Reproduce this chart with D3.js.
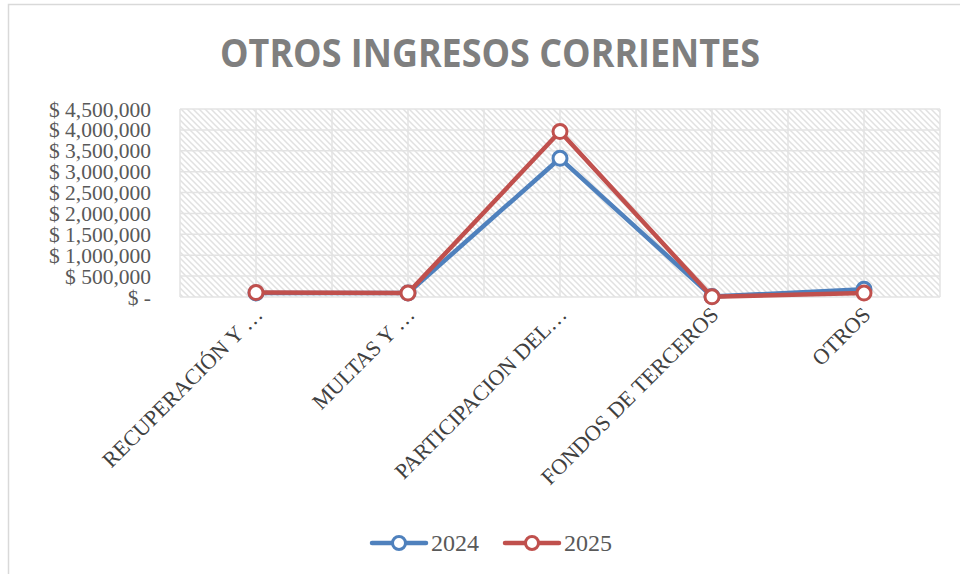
<!DOCTYPE html>
<html>
<head>
<meta charset="utf-8">
<script src="https://cdn.jsdelivr.net/npm/d3@7"></script>
<style>
  body { margin: 0; background: #fff; }
  svg { display: block; }
</style>
</head>
<body>
<script>
var categories = ["RECUPERACIÓN Y …", "MULTAS Y …", "PARTICIPACION DEL…", "FONDOS DE TERCEROS", "OTROS"];
var values2024 = [95000, 95000, 3320000, 10000, 185000];
var values2025 = [105000, 95000, 3960000, 5000, 95000];
var seriesNames = ["2024", "2025"];
var yTicks = [0, 500000, 1000000, 1500000, 2000000, 2500000, 3000000, 3500000, 4000000, 4500000];

var w = 960, h = 574;
var margin = { left: 180, top: 109, right: 20, bottom: 277 };
var colors = ["#4f81bd", "#c0504d"];
var serif = "'Liberation Serif', 'DejaVu Serif', serif";

var svg = d3.select("body").append("svg").attr("width", w).attr("height", h);

// chart border (only top/left visible in reference)
svg.append("path")
  .attr("d", "M8.5," + h + "V4.5H" + w)
  .attr("fill", "none")
  .attr("stroke", "#d9d9d9")
  .attr("stroke-width", 1.5);

// hatch pattern for plot area
var defs = svg.append("defs");
var pat = defs.append("pattern")
  .attr("id", "hatch")
  .attr("patternUnits", "userSpaceOnUse")
  .attr("width", 6).attr("height", 6);
pat.append("rect").attr("width", 6).attr("height", 6).attr("fill", "#fff");
pat.append("path")
  .attr("d", "M-1,-1L7,7M-1,5L1,7M5,-1L7,1")
  .attr("stroke", "#e1e1e1")
  .attr("stroke-width", 1.5);

var x = d3.scaleBand()
  .domain(categories)
  .range([margin.left, w - margin.right]);

var y = d3.scaleLinear()
  .domain([0, 4500000])
  .range([h - margin.bottom, margin.top]);

var x0 = margin.left, x1 = w - margin.right;
var y0 = y(0), y1 = y(4500000);

svg.append("rect")
  .attr("x", x0).attr("y", y1)
  .attr("width", x1 - x0).attr("height", y0 - y1)
  .attr("fill", "url(#hatch)");

// gridlines
var grid = svg.append("g").attr("stroke", "#e3e3e3").attr("stroke-width", 1.5);
grid.selectAll(".hg")
  .data(yTicks)
  .enter()
  .append("line")
  .attr("x1", x0).attr("x2", x1)
  .attr("y1", function (d) { return y(d); })
  .attr("y2", function (d) { return y(d); });

var vPos = [];
categories.forEach(function (c) {
  vPos.push(x(c));
  vPos.push(x(c) + x.bandwidth() / 2);
});
vPos.push(x1);
grid.selectAll(".vg")
  .data(vPos)
  .enter()
  .append("line")
  .attr("x1", function (d) { return d; })
  .attr("x2", function (d) { return d; })
  .attr("y1", y1).attr("y2", y0);

// y axis labels
var fmt = function (d) {
  return d === 0 ? "$ -" : "$ " + d3.format(",")(d);
};
svg.append("g")
  .selectAll("text")
  .data(yTicks)
  .enter()
  .append("text")
  .attr("x", 151)
  .attr("y", function (d) { return y(d); })
  .attr("dy", "0.35em")
  .attr("text-anchor", "end")
  .attr("font-family", serif)
  .attr("font-size", 21.5)
  .attr("fill", "#595959")
  .text(fmt);

// x axis labels
svg.append("g")
  .selectAll("text")
  .data(categories)
  .enter()
  .append("text")
  .attr("transform", function (d) {
    return "translate(" + (x(d) + x.bandwidth() / 2 + 8) + "," + (y0 + 19) + ") rotate(-45)";
  })
  .attr("text-anchor", "end")
  .attr("font-family", serif)
  .attr("font-size", 22)
  .attr("fill", "#404040")
  .text(function (d) { return d; });

// lines
var series = [values2024, values2025];
var line = d3.line()
  .x(function (d, i) { return x(categories[i]) + x.bandwidth() / 2; })
  .y(function (d) { return y(d); });

series.forEach(function (vals, s) {
  svg.append("path")
    .datum(vals)
    .attr("fill", "none")
    .attr("stroke", colors[s])
    .attr("stroke-width", 4.5)
    .attr("stroke-linejoin", "round")
    .attr("d", line);
  svg.append("g")
    .selectAll("circle")
    .data(vals)
    .enter()
    .append("circle")
    .attr("cx", function (d, i) { return x(categories[i]) + x.bandwidth() / 2; })
    .attr("cy", function (d) { return y(d); })
    .attr("r", 7)
    .attr("fill", "#fff")
    .attr("stroke", colors[s])
    .attr("stroke-width", 3);
});

// title
svg.append("text")
  .attr("x", 490)
  .attr("y", 67)
  .attr("text-anchor", "middle")
  .attr("font-family", "'Open Sans', 'Liberation Sans', sans-serif")
  .attr("font-weight", "bold")
  .attr("font-size", 39)
  .attr("fill", "#7f7f7f")
  .attr("textLength", 540)
  .attr("lengthAdjust", "spacingAndGlyphs")
  .text("OTROS INGRESOS CORRIENTES");

// legend
var legendX = [372, 505];
var lg = svg.append("g")
  .selectAll("g")
  .data(seriesNames)
  .enter()
  .append("g")
  .attr("transform", function (d, i) { return "translate(" + legendX[i] + ",543)"; });
lg.append("line")
  .attr("x1", 0).attr("x2", 54)
  .attr("stroke", function (d, i) { return colors[i]; })
  .attr("stroke-width", 4.5)
  .attr("stroke-linecap", "round");
lg.append("circle")
  .attr("cx", 27).attr("r", 6.5)
  .attr("fill", "#fff")
  .attr("stroke", function (d, i) { return colors[i]; })
  .attr("stroke-width", 3);
lg.append("text")
  .attr("x", 59)
  .attr("dy", "0.35em")
  .attr("font-family", serif)
  .attr("font-size", 24)
  .attr("fill", "#595959")
  .text(function (d) { return d; });
</script>
</body>
</html>
